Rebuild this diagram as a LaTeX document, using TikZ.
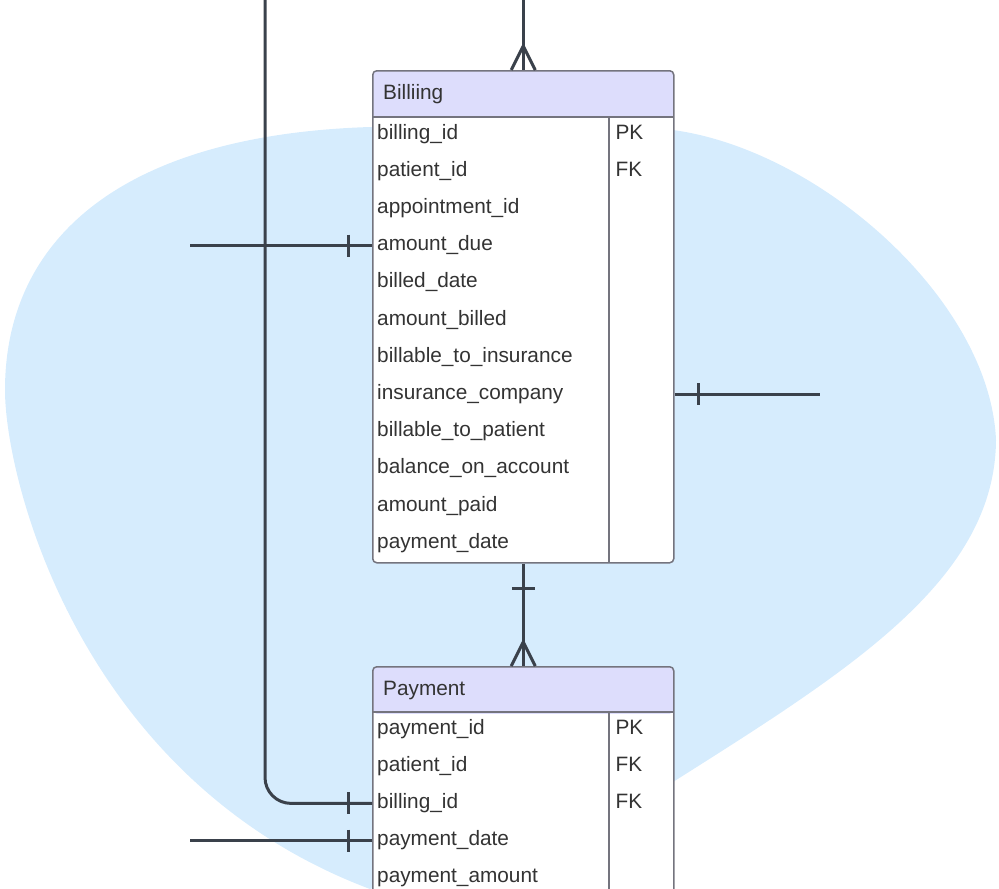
\documentclass[tikz,border=0pt]{standalone}
\usepackage{fontspec}
\setmainfont{Liberation Sans}
\usetikzlibrary{positioning}
\definecolor{blobblue}{HTML}{D6ECFD}
\definecolor{headlav}{HTML}{DDDDFC}
\definecolor{linegray}{HTML}{3A414B}
\definecolor{boxgray}{HTML}{74747E}
\definecolor{txt}{HTML}{333333}
\tikzset{x=1pt, y=-1pt, % one unit per pixel, y grows downwards
entity/.style={draw=boxgray, line width=1.5pt, fill=white, rounded corners=4pt, minimum width=301pt, anchor=north west, inner sep=0pt,
  path picture={\fill[headlav] (path picture bounding box.north west) rectangle ([yshift=-47pt]path picture bounding box.north east);}}, % header band
entname/.style={anchor=west, inner sep=0pt, text=txt, font=\fontsize{20.8}{25}\selectfont, text height=14.5pt, text depth=4.5pt},
field/.style={entname, text width=227pt, inner xsep=5pt, align=left},
keycol/.style={entname, inner xsep=6pt},
link/.style={draw=linegray, line width=3pt, line join=round},
crowfoot/.pic={\draw[link] (-12,0) -- (0,-24) -- (12,0);}, % many
vbar/.pic={\draw[link] (0,-11) -- (0,11);}, % one
hbar/.pic={\draw[link] (-11.5,0) -- (11.5,0);},
}

\begin{document}
\begin{tikzpicture}
\useasboundingbox (0,0) rectangle (999,889);
% background blob
\fill[blobblue] (370,127) .. controls (120,135) and (5,240) .. (5,390)
  .. controls (5,480) and (80,780) .. (370,889) -- (673,782)
  .. controls (850,670) and (995,580) .. (996,440)
  .. controls (990,300) and (820,150) .. (673,130) -- cycle;

% Billing
\node[entity, minimum height=492pt] (billing) at (372,70) {};
\draw[boxgray, line width=1.5pt] (372,117) -- (673,117) (609,117) -- (609,562);
\node[entname] (billT) at (383,94) {Billiing};
\foreach \f [count=\i] in {billing\_id, patient\_id, appointment\_id, amount\_due, billed\_date, amount\_billed, billable\_to\_insurance, insurance\_company, billable\_to\_patient, balance\_on\_account, amount\_paid, payment\_date}
  \node[field] (b\i) at (372, 96.8+37.2*\i) {\f};
\node[keycol] (bpk) at (b1.east) {PK};
\node[keycol] (bfk) at (b2.east) {FK};

% Payment
\node[entity, minimum height=260pt] (payment) at (372,666) {};
\draw[boxgray, line width=1.5pt] (372,712) -- (673,712) (609,712) -- (609,926);
\node[entname] (payT) at (383,690) {Payment};
\foreach \f [count=\i] in {payment\_id, patient\_id, billing\_id, payment\_date, payment\_amount}
  \node[field] (p\i) at (372, 691.8+37.2*\i) {\f};
\node[keycol] (ppk) at (p1.east) {PK};
\node[keycol] (pfk1) at (p2.east) {FK};
\node[keycol] (pfk2) at (p3.east) {FK};

% free ends
\coordinate[above=70pt of billing.north] (billTop);
\coordinate (patTop) at (265,0);
\coordinate[left=182pt of b4.west] (dueL);
\coordinate (ins) at (b8 -| billing.east);
\coordinate[right=145pt of ins] (insR);
\coordinate[left=182pt of p4.west] (dateL);

% relations
\draw[link] (billTop) -- (billing.north);
\pic at (billing.north) {crowfoot};
\draw[link] (billing.south) -- (payment.north);
\pic at ([yshift=-25pt]billing.south) {hbar};
\pic at (payment.north) {crowfoot};
\draw[link, rounded corners=26pt] (patTop) |- (p3.west);
\pic at ([xshift=-24pt]p3.west) {vbar};
\draw[link] (dueL) -- (b4.west);
\pic at ([xshift=-24pt]b4.west) {vbar};
\draw[link] (ins) -- (insR);
\pic at ([xshift=24pt]ins) {vbar};
\draw[link] (dateL) -- (p4.west);
\pic at ([xshift=-24pt]p4.west) {vbar};
\end{tikzpicture}
\end{document}
